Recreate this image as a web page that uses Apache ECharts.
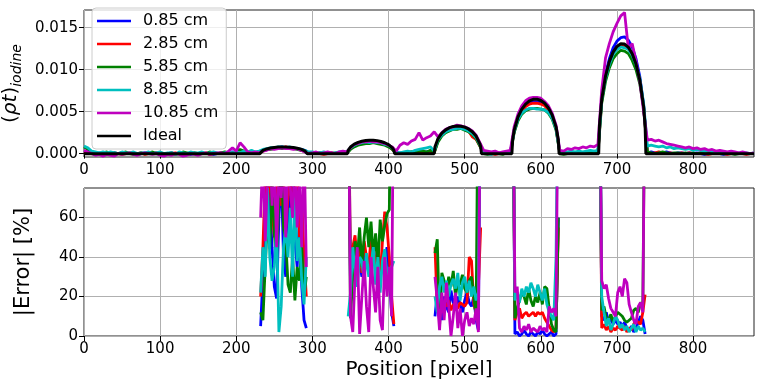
<!DOCTYPE html>
<html>
<head>
<meta charset="utf-8">
<script src="https://cdn.jsdelivr.net/npm/echarts@6/dist/echarts.min.js"></script>
<style>
html,body{margin:0;padding:0;background:#fff}
#chart{width:760px;height:388px}
</style>
</head>
<body>
<div id="chart"></div>
<script>
var names = ['0.85 cm', '2.85 cm', '5.85 cm', '8.85 cm', '10.85 cm', 'Ideal'];
var colors = ['#0000ff', '#ff0000', '#008000', '#00bfbf', '#bf00bf', '#000000'];

var ticksX = [0, 100, 200, 300, 400, 500, 600, 700, 800];
var ticksTop = [0, 0.005, 0.010, 0.015];
var ticksErr = [0, 20, 40, 60];

// top plot: measured profiles, one value every 5 pixels from 0 to 880, in units of 1e-4
var topStep = 5;
var topBlue = [3,2,1,0,1,0,-1,0,1,0, 1,0,0,1,-1,0,1,0,0,1, 0,-1,0,1,0,0,1,0,-1,0, 0,1,0,0,-1,0,1,0,1,2, 1,0,2,1,0,1,
  2,4,5,6,7,7,8,7,7,6,6,5,4,1,
  1,0,1,0,0,1,0,1,1,
  1,6,10,12,13,14,14,15,14,13,12,9,6,1,
  1,1,2,1,2,2,1,2,3,
  2,16,22,26,29,30,31,31,30,28,25,19,10,
  1,0,1,0,1,0,1,2,
  27,42,51,57,60,62,62,61,58,53,44,30,
  1,0,1,0,1,1,0,1,0,1,1,
  66,95,113,126,134,138,139,135,127,113,92,58,
  1,2,1,0,1,2,1,0,1,1, 0,1,0,1,0,-1,0,1,0,0, -1,0,1,0,0,1,0,0,0];
var topRed = [2,1,0,1,0,-1,0,1,0,0, -1,0,1,0,0,1,-1,0,0,1, 0,0,-1,0,1,0,0,-1,0,1, 0,0,1,-1,0,0,1,0,0,1, 2,1,0,1,2,0,
  1,3,5,6,6,7,7,8,7,6,6,4,3,1,
  0,1,0,-1,0,1,0,0,1,
  1,6,9,11,13,13,14,14,14,12,11,9,5,1,
  0,1,1,2,1,1,2,1,2,
  1,16,22,26,28,30,30,31,29,27,20,17,9,
  0,1,0,-1,0,1,0,1,
  26,41,50,56,59,60,60,59,57,52,45,31,
  0,1,0,1,0,1,1,0,1,0,1,
  63,91,108,120,126,128,129,126,118,105,87,56,
  1,0,1,2,1,0,1,0,0,1, 0,1,0,0,1,0,-1,0,0,1, 0,-1,0,1,0,0,-1,0,0];
var topGreen = [8,5,2,1,0,1,2,0,1,0, 1,2,0,-1,0,1,0,1,2,0, 1,0,0,1,-1,0,2,1,0,1, 0,1,0,2,1,0,1,2,1,0, 3,5,3,1,2,1,
  2,4,5,5,6,7,6,7,6,6,5,4,3,0,
  1,0,1,0,1,0,1,1,0,
  0,5,8,10,11,12,12,13,12,11,10,8,5,0,
  0,1,1,2,2,3,3,2,4,
  1,14,21,25,27,29,29,30,28,26,23,18,9,
  0,-1,0,1,0,-1,1,0,
  25,39,47,51,53,54,54,53,52,48,41,28,
  0,-1,0,1,0,0,1,0,1,1,0,
  60,86,102,113,119,123,122,119,111,100,83,55,
  2,1,0,1,2,1,0,1,1,0, 1,0,1,0,1,0,0,1,0,0, 1,0,0,-1,0,1,0,0,0];
var topCyan = [9,7,3,2,1,2,1,2,1,0, 2,1,1,2,0,1,1,2,0,1, 2,0,1,1,-1,2,1,0,2,1, 1,2,0,1,2,1,0,1,2,1, 2,1,3,2,4,2,
  3,5,6,7,7,8,8,7,8,7,6,5,4,2,
  2,1,1,2,1,0,1,2,2,
  2,7,10,12,13,14,13,14,13,13,11,10,7,2,
  1,2,3,2,4,5,6,7,8,
  3,17,22,26,28,29,30,30,29,27,24,19,11,
  1,0,-1,1,0,1,0,1,
  27,41,48,52,54,54,53,53,52,49,42,30,
  2,1,2,3,2,3,2,3,4,3,4,
  64,90,106,118,124,127,126,124,117,106,90,60,
  9,10,9,8,9,7,8,6,7,6, 5,6,4,5,4,3,4,3,2,3, 2,1,2,1,1,0,1,0,1];
var topMagenta = [4,2,0,-2,-1,-3,-1,-2,-3,0, -1,0,1,-1,-2,0,1,0,-1,0, -2,-3,-1,-2,0,-1,-3,-2,0,-1, -2,0,1,-1,0,1,1,0,3,7, 3,13,8,2,1,2,
  1,3,4,6,5,6,7,6,6,5,6,4,2,0,
  1,2,0,1,2,1,0,2,3,
  2,7,11,12,14,14,15,14,14,13,12,10,8,3,
  10,13,11,15,17,25,16,19,21,
  26,20,25,29,31,32,34,33,32,30,27,22,13,
  4,3,2,3,1,2,3,4,
  32,47,57,63,66,67,67,66,62,57,48,34,
  4,3,6,5,7,6,8,7,9,8,11,
  76,114,131,145,155,164,168,125,131,110,86,50,
  16,17,15,16,14,12,11,10,9,8, 7,8,6,7,5,6,4,5,3,4, 3,2,3,2,1,2,1,0,1];

// ideal profile (units of 1e-4)
var idealX = [0, 231,232,235,240,245,250,255,260,265,270,275,280,285,290,292,293,
  346,347,350,355,360,365,370,375,380,385,390,395,400,405,407,408,
  460,461,465,470,475,480,485,490,495,500,505,510,515,520,521,522,
  562,563,565,570,575,580,585,590,595,600,605,610,615,620,623,624,
  676,677,680,685,690,695,700,705,710,715,720,725,730,735,737,738, 880];
var idealY = [0, 0,2.0,3.9,5.6,6.7,7.4,7.8,8.0,8.0,7.7,7.3,6.5,5.4,3.4,2.0,0,
  0,4.0,7.9,11.3,13.4,14.8,15.6,16.0,15.9,15.5,14.5,13.0,10.7,6.9,4.0,0,
  0,8.3,18.0,24.3,28.3,30.9,32.4,33.0,32.7,31.6,29.4,26.1,20.9,11.7,8.3,0,
  0,16.4,27.9,43.6,52.9,59.0,62.8,64.7,64.9,63.3,59.9,54.4,45.8,31.9,16.4,0,
  0,33.0,64.4,92.3,109.5,120.8,127.6,130.7,130.4,126.6,118.9,106.6,87.8,56.2,33.0,0, 0];

// bottom plot: |error| in %, one value every 3 pixels inside each object
var errStarts = [232, 347, 461, 563, 677];
var errStep = 3;
var errBlue = [
  [5,30,55,90,70,45,25,19,60,85,40,30,75,55,90,48,35,60,25,8,4],
  [150,25,40,28,35,37,30,42,34,38,30,45,36,28,40,33,38,45,30,12,5],
  [10,22,18,8,20,15,12,23,17,14,20,16,12,18,22,17,15,20,8,3,150],
  [150,1,2,0,1,3,1,0,2,1,0,2,1,3,1,0,1,2,0,1,60],
  [150,10,8,12,7,9,6,8,6,7,5,7,4,3,5,2,4,7,10,8,1]];
var errRed = [
  [20,45,80,60,90,65,50,72,95,66,80,55,70,85,60,75,90,50,70,40,20],
  [150,30,45,51,38,46,32,48,40,35,50,42,36,45,30,48,63,55,40,20,6],
  [45,14,16,12,17,15,18,13,16,15,14,17,16,15,17,40,38,16,12,25,55],
  [150,8,12,14,9,11,12,10,11,12,10,12,11,12,9,7,5,3,2,4,55],
  [150,4,6,3,5,2,4,3,5,4,3,5,2,4,3,6,8,7,6,12,21]];
var errGreen = [
  [12,8,35,60,44,80,52,38,70,95,55,48,26,22,40,18,35,28,45,20,30],
  [150,9,30,48,40,55,35,50,60,45,58,40,52,35,59,48,56,62,64,150,150],
  [42,49,5,32,28,22,30,25,33,20,28,26,31,24,22,28,30,20,10,150,150],
  [150,9,14,18,22,20,16,24,18,15,20,17,22,16,25,24,14,6,3,2,60],
  [150,13,15,9,8,11,7,10,12,11,10,8,7,8,9,13,14,12,17,16,150]];
var errCyan = [
  [22,45,30,75,40,28,35,55,2,15,45,55,40,65,30,72,38,50,28,16,40],
  [10,22,45,32,25,40,38,28,42,30,35,45,26,40,22,38,44,30,25,35,38],
  [20,12,25,30,22,28,20,26,29,24,32,18,27,30,22,28,20,25,18,22,150],
  [150,18,22,17,24,20,25,22,27,24,20,26,22,18,24,16,12,10,8,40,150],
  [150,20,12,5,9,3,6,10,8,4,6,3,5,2,4,6,2,5,3,4,2]];
var errMagenta = [
  [60,95,48,80,100,66,90,45,85,70,95,50,88,75,60,92,55,80,45,100,35],
  [150,10,2,30,45,1,20,38,15,2,40,25,12,35,8,3,40,20,35,10,150],
  [30,18,3,22,8,27,15,0,10,22,4,14,0,8,12,5,9,6,14,2,150],
  [150,22,25,4,2,5,3,6,2,4,3,2,5,3,4,2,15,12,14,10,150],
  [150,28,24,26,19,14,12,10,22,25,20,29,27,16,12,8,6,15,17,12,150]];

var topSets = [topBlue, topRed, topGreen, topCyan, topMagenta];
var errSets = [errBlue, errRed, errGreen, errCyan, errMagenta];

var FONT = 'DejaVu Sans';
var LW = 2.8;

function topData(vals) {
  return vals.map(function (v, i) { return [i * topStep, v / 1e4]; });
}
function errData(parts) {
  var out = [];
  parts.forEach(function (p, k) {
    p.forEach(function (v, j) { out.push([errStarts[k] + j * errStep, v]); });
    out.push([errStarts[k] + p.length * errStep, null]);
  });
  return out;
}

function xAxisOpt(idx, withName) {
  var o = {
    gridIndex: idx, type: 'value', min: 0, max: 880,
    axisLine: { show: false },
    axisTick: { show: true, length: 5, customValues: ticksX, lineStyle: { color: '#000' } },
    axisLabel: { customValues: ticksX, fontSize: 15, color: '#000', fontFamily: FONT, margin: 6 },
    splitLine: { show: true, lineStyle: { color: '#b0b0b0', width: 1 } }
  };
  if (withName) {
    o.name = 'Position [pixel]';
    o.nameLocation = 'middle';
    o.nameGap = 24;
    o.nameTextStyle = { fontSize: 20, color: '#000', fontFamily: FONT };
  }
  return o;
}

var series = [];
topSets.forEach(function (vals, i) {
  series.push({
    name: names[i], type: 'line', xAxisIndex: 0, yAxisIndex: 0,
    data: topData(vals), symbol: 'none', lineStyle: { color: colors[i], width: LW },
    itemStyle: { color: colors[i] }
  });
});
series.push({
  name: 'Ideal', type: 'line', xAxisIndex: 0, yAxisIndex: 0,
  data: idealX.map(function (x, i) { return [x, idealY[i] / 1e4]; }),
  symbol: 'none', lineStyle: { color: '#000', width: 3 }, itemStyle: { color: '#000' }
});
errSets.forEach(function (parts, i) {
  series.push({
    name: names[i], type: 'line', xAxisIndex: 1, yAxisIndex: 1,
    data: errData(parts), symbol: 'none', lineStyle: { color: colors[i], width: LW },
    itemStyle: { color: colors[i] }
  });
});

var chart = echarts.init(document.getElementById('chart'));
chart.setOption({
  animation: false,
  backgroundColor: '#fff',
  grid: [
    { left: 84, right: 6, top: 10, height: 147, show: true, borderColor: '#222', borderWidth: 1, outerBoundsMode: 'none' },
    { left: 84, right: 6, top: 188, height: 148, show: true, borderColor: '#222', borderWidth: 1, outerBoundsMode: 'none' }
  ],
  legend: {
    data: names, left: 92, top: 8, orient: 'vertical',
    icon: 'path://M0,0L100,0L100,8L0,8Z',
    itemWidth: 34, itemHeight: 3, itemGap: 5,
    padding: [4, 8, 4, 5],
    backgroundColor: 'rgba(255,255,255,0.8)', borderColor: '#cccccc', borderWidth: 1, borderRadius: 4,
    selectedMode: false,
    textStyle: { fontSize: 16, color: '#000', fontFamily: FONT, lineHeight: 18, padding: [0, 0, 0, 7] }
  },
  xAxis: [xAxisOpt(0, false), xAxisOpt(1, true)],
  yAxis: [
    {
      gridIndex: 0, type: 'value', min: -0.0004, max: 0.0171,
      axisLine: { show: false },
      axisTick: { show: true, length: 5, customValues: ticksTop, lineStyle: { color: '#000' } },
      axisLabel: { customValues: ticksTop, fontSize: 15, color: '#000', fontFamily: FONT, margin: 6,
        formatter: function (v) { return v.toFixed(3); } },
      splitLine: { show: true, lineStyle: { color: '#b0b0b0', width: 1 } },
      name: '{a|(}{b|ρt}{a|)}{c|iodine}', nameLocation: 'middle', nameRotate: 90, nameGap: 56,
      nameTextStyle: {
        color: '#000', fontFamily: FONT,
        rich: {
          a: { fontSize: 20, fontFamily: FONT, color: '#000', lineHeight: 24 },
          b: { fontSize: 20, fontFamily: FONT, fontStyle: 'italic', color: '#000', lineHeight: 24 },
          c: { fontSize: 14, fontFamily: FONT, fontStyle: 'italic', color: '#000', lineHeight: 27, verticalAlign: 'bottom' }
        }
      }
    },
    {
      gridIndex: 1, type: 'value', min: 0, max: 75,
      axisLine: { show: false },
      axisTick: { show: true, length: 5, customValues: ticksErr, lineStyle: { color: '#000' } },
      axisLabel: { customValues: ticksErr, fontSize: 15, color: '#000', fontFamily: FONT, margin: 6 },
      splitLine: { show: true, lineStyle: { color: '#b0b0b0', width: 1 } },
      name: '|Error| [%]', nameLocation: 'middle', nameRotate: 90, nameGap: 50,
      nameTextStyle: { fontSize: 21, color: '#000', fontFamily: FONT }
    }
  ],
  series: series
});
</script>
</body>
</html>
